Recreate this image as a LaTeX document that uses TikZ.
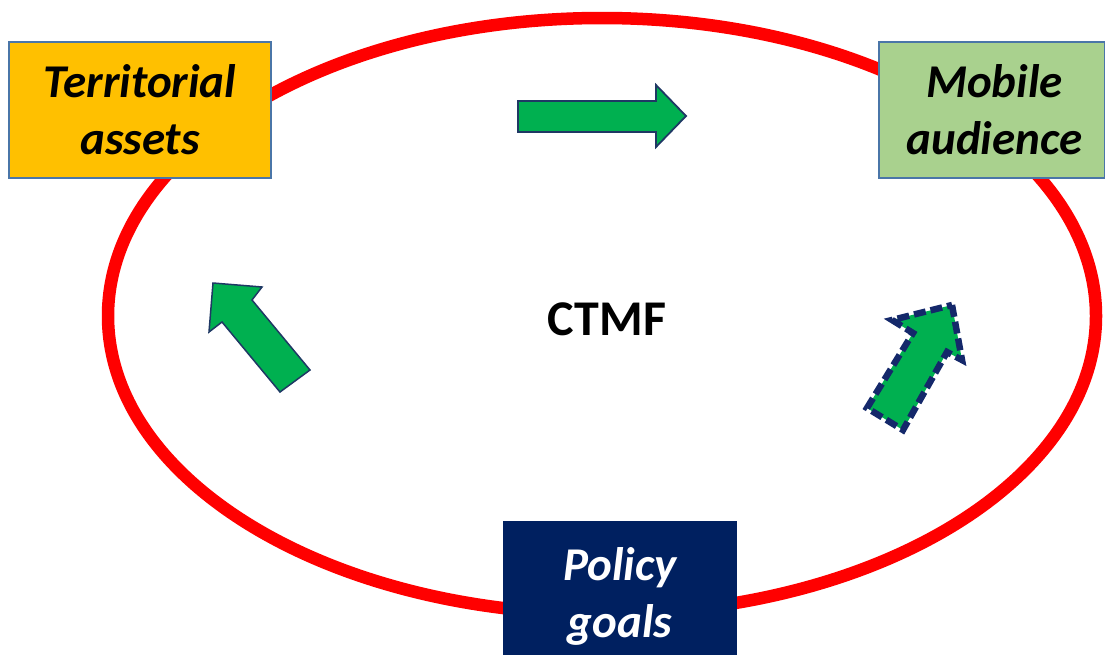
\documentclass[tikz,border=0pt]{standalone}
\usepackage{fontspec}
\setmainfont{Carlito}
\definecolor{ctred}{HTML}{FF0000}
\definecolor{ctorange}{HTML}{FFC000}
\definecolor{ctlgreen}{HTML}{A9D18E}
\definecolor{ctnavy}{HTML}{002060}
\definecolor{ctgreen}{HTML}{00B050}
\definecolor{ctborder}{HTML}{4A76A8}
\definecolor{ctdark}{HTML}{1F3864}
\definecolor{ctdash}{HTML}{14286A}
\tikzset{
  labelbox/.style={draw=ctborder, line width=2pt, align=center, inner sep=0pt,
    font=\fontsize{47}{57}\selectfont\bfseries\itshape},
  greenarrow/.style={fill=ctgreen, draw=ctdark, line width=1.8pt, line join=miter},
  dasharrow/.style={fill=ctgreen, draw=ctdash, line width=6.5pt, dash pattern=on 12pt off 5pt, line join=miter}
}
\begin{document}
\begin{tikzpicture}[x=1pt,y=-1pt]
\useasboundingbox (0,0) rectangle (1105,654);
\clip (0,0) rectangle (1105,654);
% ring
\draw[ctred, line width=12.5pt] (602,316) ellipse [x radius=494, y radius=298];
% boxes
\node[labelbox, fill=ctorange, minimum width=262pt, minimum height=136pt] (terr) at (140,110)
  {Territorial\\assets};
\node[labelbox, fill=ctlgreen, minimum width=226pt, minimum height=136pt] (mob) at (992,110)
  {\hspace*{5pt}Mobile\\\hspace*{5pt}audience};
\node[labelbox, draw=none, fill=ctnavy, text=white, minimum width=234pt, minimum height=150pt] (pol) at (620,596)
  {Policy\\goals};
\node[font=\fontsize{50}{56}\selectfont\bfseries] (ctmf) at (607,319) {CTMF};
% top arrow
\draw[greenarrow] (518,101) -- (656,101) -- (656,85) -- (686,116) -- (656,147) -- (656,132) -- (518,132) -- cycle;
% left arrow (up-left)
\draw[greenarrow, line width=1.5pt] (213,283) -- (262,287) -- (252,300) -- (310,370) -- (280,392) -- (222,322) -- (209,332) -- cycle;
% right arrow (up-right), dashed border
\draw[dasharrow] (952,305) -- (962,360) -- (947,352) -- (903,430) -- (867,408) -- (913,333) -- (892,320) -- cycle;
\end{tikzpicture}
\end{document}
